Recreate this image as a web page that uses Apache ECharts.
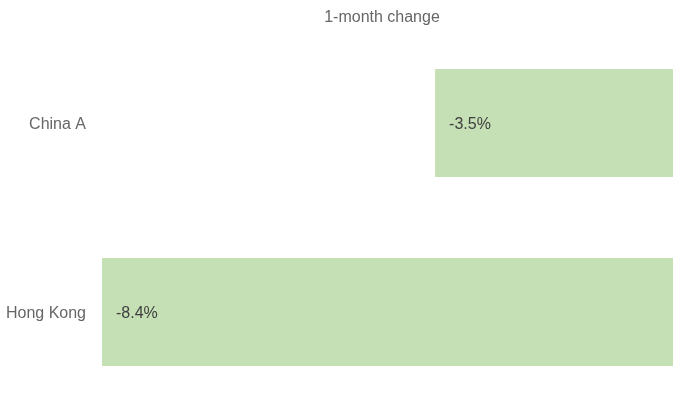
<!DOCTYPE html>
<html>
<head>
<meta charset="utf-8">
<script src="https://cdn.jsdelivr.net/npm/echarts@6/dist/echarts.min.js"></script>
<style>html,body{margin:0;padding:0;background:#fff;}#c{width:673px;height:403px;}</style>
</head>
<body>
<div id="c"></div>
<script>
const categories = ['China A', 'Hong Kong'];
const values = [-3.5, -8.4];
const titleText = '1-month change';

const chart = echarts.init(document.getElementById('c'), null, {renderer: 'canvas'});
chart.setOption({
  animation: false,
  backgroundColor: '#ffffff',
  title: {
    text: titleText,
    left: 377, top: 5, textAlign: 'center',
    textStyle: {fontFamily: 'Liberation Sans, Arial, sans-serif', fontSize: 16, fontWeight: 'normal', color: '#666666'}
  },
  grid: {left: 102, right: 0, top: 28.5, bottom: -3.5, containLabel: false, outerBoundsMode: 'none'},
  xAxis: {type: 'value', min: -8.4, max: 0, show: false},
  yAxis: {
    type: 'category', data: categories, inverse: true,
    axisLine: {show: false}, axisTick: {show: false}, splitLine: {show: false},
    axisLabel: {
      margin: 16, fontFamily: 'Liberation Sans, Arial, sans-serif', fontSize: 16, color: '#666666',
      formatter: v => '{a|' + v + '}',
      rich: {a: {padding: [4, 0, 0, 0], fontFamily: 'Liberation Sans, Arial, sans-serif', fontSize: 16, color: '#666666'}}
    }
  },
  series: [{
    type: 'bar', data: values, barWidth: 108,
    itemStyle: {color: '#c5e0b4'},
    label: {
      show: true, position: 'insideLeft', distance: 14, offset: [0, 2],
      formatter: p => p.value.toFixed(1) + '%',
      fontFamily: 'Liberation Sans, Arial, sans-serif', fontSize: 16, color: '#404040'
    }
  }]
});
</script>
</body>
</html>
